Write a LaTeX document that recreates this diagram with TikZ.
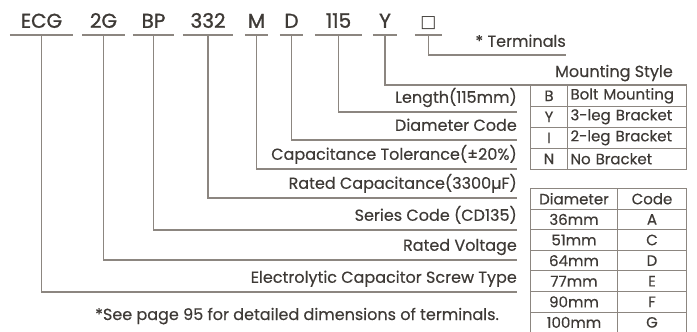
\documentclass[tikz,border=0pt]{standalone}
\usepackage{fontspec}
\setmainfont{Poppins}[FakeBold=0.35]
\newfontfamily\codefont{Poppins}[FakeBold=1.2]
\newfontfamily\symfont{DejaVu Sans}
\usetikzlibrary{positioning}
\definecolor{ink}{HTML}{3E3A36}
\definecolor{rulec}{HTML}{8C8680}

\begin{document}
\begin{tikzpicture}[x=1pt, y=-1pt,
    every node/.style={text=ink, inner sep=0pt},
    code/.style={font=\codefont\fontsize{20}{22}\selectfont, text height=14, text depth=7, anchor=south},
    lbl/.style={font=\fontsize{16}{18}\selectfont, anchor=south east, text depth=9},
    ln/.style={draw=rulec, line width=1.1pt},
    cell/.style={draw=rulec, line width=1pt, minimum height=20.6, anchor=north west, font=\fontsize{15}{17}\selectfont},
    ltxt/.style={cell, text width=113, inner xsep=3, align=left}
]
\useasboundingbox (0,0) rectangle (697,332);
% part code
\node[code, minimum width=63] (ecg)  at (41.5,35)  {ECG};
\node[code, minimum width=42] (volt) at (103.5,35) {2G};
\node[code, minimum width=41] (ser)  at (153.5,35) {BP};
\node[code, minimum width=50] (cap)  at (208,35)   {332};
\node[code, minimum width=23] (tol)  at (256.5,35) {M};
\node[code, minimum width=23] (dia)  at (291.5,35) {D};
\node[code, minimum width=47] (len)  at (338.5,35) {115};
\node[code, minimum width=24] (mnt)  at (385,35)   {Y};
\node[code, minimum width=27] (trm)  at (428.5,35) {\symfont\fontsize{17}{19}\selectfont □};
\foreach \n in {ecg,volt,ser,cap,tol,dia,len,mnt,trm}
  \draw[ln] (\n.south west) -- (\n.south east);
% labels
\node[lbl, text depth=8] (trmL) at (566,55) {* Terminals};
\node[lbl] (lenL)  at (517,112) {Length(115mm)};
\node[lbl] (diaL)  at (517,140) {Diameter Code};
\node[lbl] (tolL)  at (517,169) {Capacitance Tolerance(±20\%)};
\node[lbl] (capL)  at (517,198) {Rated Capacitance(3300µF)};
\node[lbl] (serL)  at (517,230) {Series Code (CD135)};
\node[lbl] (voltL) at (517,260) {Rated Voltage};
\node[lbl] (ecgL)  at (517,292) {Electrolytic Capacitor Screw Type};
% mounting style table
\node[font=\fontsize{16}{18}\selectfont, anchor=base] (mhead) at (614,77) {Mounting Style};
\node[cell, minimum width=37] (mB)  at (530,85)  {B};
\node[ltxt] (mBt) at (567,85)  {Bolt Mounting};
\node[cell, minimum width=37] (mY)  at (530,106) {Y};
\node[ltxt] (mYt) at (567,106) {3-leg Bracket};
\node[cell, minimum width=37] (mI)  at (530,127) {I};
\node[ltxt] (mIt) at (567,127) {2-leg Bracket};
\node[cell, minimum width=37] (mN)  at (530,148) {N};
\node[ltxt] (mNt) at (567,148) {No Bracket};
% diameter table
\node[cell, minimum width=87] (dh) at (530,188) {Diameter};
\node[cell, minimum width=69] (ch) at (617,188) {Code};
\foreach \d/\c [count=\i] in {36mm/A,51mm/C,64mm/D,77mm/E,90mm/F,100mm/G} {
  \node[cell, minimum width=87] (d\i) at (530,188+20.6*\i) {\d};
  \node[cell, minimum width=69] (c\i) at (617,188+20.6*\i) {\c};
}
% connectors
\draw[ln] (trm.south) |- (trmL.south east);
\draw[ln] (mnt.south) |- (mBt.north east);
\draw[ln] (len.south) |- (lenL.south east);
\draw[ln] (dia.south) |- (diaL.south east);
\draw[ln] (tol.south) |- (tolL.south east);
\draw[ln] (cap.south) |- (capL.south east);
\draw[ln] (ser.south) |- (serL.south east);
\draw[ln] (volt.south) |- (voltL.south east);
\draw[ln] (ecg.south) |- (ecgL.south east);
\node[font=\fontsize{16}{18}\selectfont, anchor=base west] (note) at (95,320) {*See page 95 for detailed dimensions of terminals.};
\end{tikzpicture}
\end{document}
